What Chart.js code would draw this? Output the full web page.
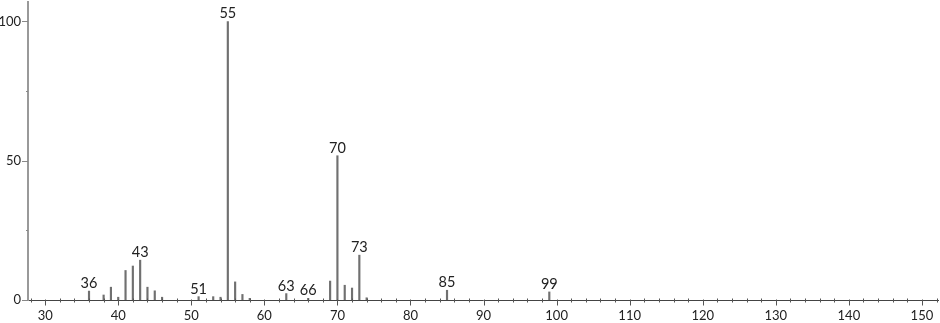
<!DOCTYPE html>
<html>
<head>
<meta charset="utf-8">
<script src="https://cdn.jsdelivr.net/npm/chart.js@4.4.1/dist/chart.umd.min.js"></script>
<style>
    html, body { margin: 0; padding: 0; background: #fff; }
    #wrap { width: 940px; height: 323px; }
</style>
</head>
<body>
<div id="wrap"><canvas id="spectrum"></canvas></div>
<script>
// m/z values and relative intensities
const mz = [36, 38, 39, 40, 41, 42, 43, 44, 45, 46, 51, 53, 54, 55, 56, 57, 58, 63, 66, 69, 70, 71, 72, 73, 74, 85, 99];
const intensity = [3.2, 1.8, 4.6, 1.0, 10.6, 12.2, 14.3, 4.6, 3.3, 1.0, 1.2, 1.2, 1.0, 100, 6.5, 2.0, 0.6, 2.3, 0.6, 6.8, 51.8, 5.3, 4.3, 16.1, 0.8, 3.5, 2.9];
const labeledPeaks = [36, 43, 51, 55, 63, 66, 70, 73, 85, 99];
const xTickLabels = [30, 40, 50, 60, 70, 80, 90, 100, 110, 120, 130, 140, 150];
const yTickLabels = [0, 50, 100];

const FONT = { family: "Lato, 'DejaVu Sans', sans-serif", size: 13 };
const PEAK_FONT = "14.5px Lato, 'DejaVu Sans', sans-serif";

// peak labels and the little minor ticks
const spectrumDecor = {
    id: "spectrumDecor",
    afterDatasetsDraw(chart) {
        const { ctx, scales: { x, y }, chartArea } = chart;
        ctx.save();

        ctx.font = PEAK_FONT;
        ctx.fillStyle = "#222";
        ctx.textAlign = "center";
        ctx.textBaseline = "alphabetic";
        labeledPeaks.forEach((m) => {
            const v = intensity[mz.indexOf(m)];
            ctx.fillText(String(m), x.getPixelForValue(m), y.getPixelForValue(v) - 3);
        });

        ctx.strokeStyle = "#555";
        ctx.lineWidth = 1;
        const b = Math.round(chartArea.bottom) + 0.5;
        for (let v = 28; v <= 152; v += 2) {
            const px = Math.round(x.getPixelForValue(v)) + 0.5;
            ctx.beginPath();
            if (v % 10 === 0) {
                ctx.moveTo(px, b - 1);
                ctx.lineTo(px, b + 5);
            } else {
                ctx.moveTo(px, b - 2);
                ctx.lineTo(px, b + 2);
            }
            ctx.stroke();
        }

        ctx.strokeStyle = "#888";
        const l = chartArea.left;
        [0, 25, 50, 75, 100].forEach((v) => {
            const py = Math.round(y.getPixelForValue(v)) + 0.5;
            ctx.beginPath();
            ctx.moveTo(l - (v % 50 === 0 ? 6 : 2), py);
            ctx.lineTo(l, py);
            ctx.stroke();
        });
        ctx.restore();
    },
};

new Chart(document.getElementById("spectrum"), {
    type: "bar",
    data: {
        datasets: [
            {
                data: mz.map((m, i) => ({ x: m, y: intensity[i] })),
                backgroundColor: "#707070",
                barThickness: 1.5,
                grouped: false,
            },
        ],
    },
    options: {
        responsive: true,
        maintainAspectRatio: false,
        animation: false,
        layout: { padding: { top: 2, right: 2, left: 0, bottom: 0 } },
        plugins: { legend: { display: false }, tooltip: { enabled: false } },
        scales: {
            x: {
                type: "linear",
                offset: false,
                min: 27.65,
                max: 152.2,
                grid: { display: false, drawTicks: false, offset: false },
                border: { display: true, color: "#444", width: 1 },
                afterBuildTicks: (s) => { s.ticks = xTickLabels.map((v) => ({ value: v })); },
                afterFit: (s) => { s.height = 23; s.paddingLeft = 0; s.paddingRight = 0; },
                ticks: { font: FONT, color: "#222", padding: 8, maxRotation: 0, autoSkip: false },
            },
            y: {
                min: 0,
                max: 107,
                grid: { display: false, drawTicks: false },
                border: { display: true, color: "#999", width: 2 },
                afterBuildTicks: (s) => { s.ticks = yTickLabels.map((v) => ({ value: v })); },
                afterFit: (s) => { s.width = 28; s.paddingTop = 0; s.paddingBottom = 0; },
                ticks: { font: FONT, color: "#222", padding: 7 },
            },
        },
    },
    plugins: [spectrumDecor],
});
</script>
</body>
</html>
